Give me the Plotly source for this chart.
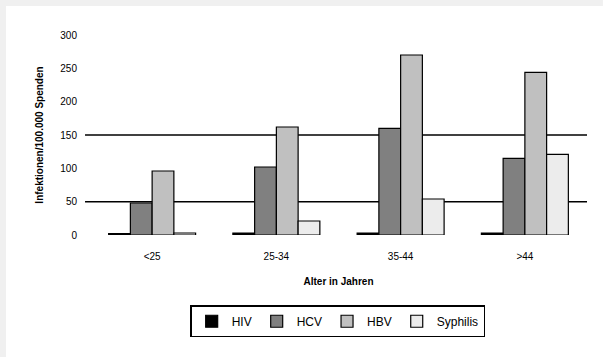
import plotly.graph_objects as go

categories = ["<25", "25-34", "35-44", ">44"]
series_names = ["HIV", "HCV", "HBV", "Syphilis"]
hiv = [2, 3, 3, 3]
hcv = [48, 102, 160, 115]
hbv = [96, 162, 270, 244]
syphilis = [3, 21, 54, 121]
y_ticks = [0, 50, 100, 150, 200, 250, 300]
y_tick_text = ["0", "50", "100", "150", "200", "250", "300"]
grid_values = [50, 150]

colors = ["#000000", "#808080", "#c0c0c0", "#ececec"]
values = [hiv, hcv, hbv, syphilis]

fig = go.Figure()
for name, vals, col in zip(series_names, values, colors):
    fig.add_trace(go.Bar(
        x=categories, y=vals, name=name,
        marker=dict(color=col, line=dict(color="#000000", width=1.2)),
    ))

for gv in grid_values:
    fig.add_shape(type="line", xref="paper", yref="y", x0=-0.01, x1=1.0,
                  y0=gv, y1=gv, line=dict(color="#000000", width=1.5), layer="below")

fig.update_layout(
    width=603, height=357,
    margin=dict(l=90, r=16, t=35, b=122),
    paper_bgcolor="#ffffff", plot_bgcolor="#ffffff",
    barmode="group", bargap=0.3, bargroupgap=0,
    font=dict(family="Liberation Sans, Arial, sans-serif", size=10, color="#000000"),
    showlegend=True,
    legend=dict(orientation="h", xref="container", yref="container",
                x=0.56, xanchor="center", y=0.145, yanchor="top",
                bordercolor="#000000", borderwidth=1.5, bgcolor="#ffffff",
                font=dict(size=12), itemwidth=30, tracegroupgap=0),
    xaxis=dict(showline=False, ticks="outside", ticklen=12, tickcolor="rgba(0,0,0,0)",
               tickfont=dict(size=10),
               title=dict(text="<b>Alter in Jahren</b>", font=dict(size=10), standoff=16)),
    yaxis=dict(range=[0, 300], tickvals=y_ticks, ticktext=y_tick_text, showgrid=False,
               zeroline=False, showline=False, ticks="outside", ticklen=10,
               tickcolor="rgba(0,0,0,0)", tickfont=dict(size=10),
               title=dict(text="<b>Infektionen/100.000 Spenden</b>", font=dict(size=10), standoff=14)),
)

# light grey frame at top and left edges
fig.add_shape(type="line", xref="paper", yref="paper", x0=-0.181, x1=1.032, y0=1.16, y1=1.16,
              line=dict(color="#f0f0f0", width=6), layer="below")
fig.add_shape(type="line", xref="paper", yref="paper", x0=-0.175, x1=-0.175, y0=-0.61, y1=1.175,
              line=dict(color="#f0f0f0", width=6), layer="below")

fig.write_html("out.html")
